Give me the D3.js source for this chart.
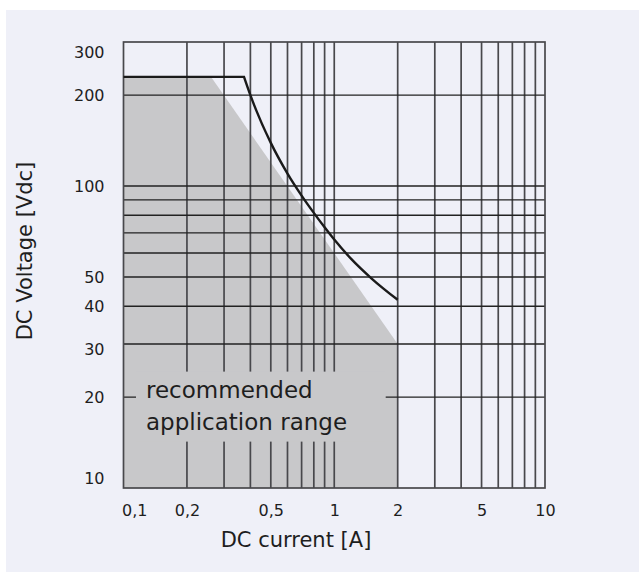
<!doctype html>
<html>
<head>
<meta charset="UTF-8">
<title>DC load limit</title>
<script src="https://d3js.org/d3.v7.min.js"></script>
<style>
    body { margin: 0; background: #fff; }
    text { font-family: "DejaVu Sans", sans-serif; fill: #1e1e1e; }
</style>
</head>
<body>
<svg width="639" height="572"></svg>
<script>
    // x ticks (A) and labels
    var xTicks = [0.1, 0.2, 0.5, 1, 2, 5, 10];
    var xLabels = ["0,1", "0,2", "0,5", "1", "2", "5", "10"];
    var xGrid = [0.2, 0.3, 0.4, 0.5, 0.6, 0.7, 0.8, 0.9, 1, 2, 3, 4, 5, 6, 7, 8, 9];

    // y ticks (Vdc)
    var yTicks = [10, 20, 30, 40, 50, 100, 200, 300];
    var yGrid = [20, 30, 40, 50, 60, 70, 80, 90, 100, 200];

    // load limit curve
    var curveI = [0.1, 0.373, 0.4, 0.5, 0.6, 0.7, 0.8, 0.9, 1.0, 1.2, 1.5, 2.0];
    var curveV = [230, 230, 200, 139, 110, 93, 81.5, 73, 66.5, 57.5, 49.5, 42];

    // recommended application range (shaded)
    var areaI = [0.1, 0.1, 0.26, 2, 2];
    var areaV = [10, 230, 230, 30, 10];

    var svg = d3.select("svg");

    var x = d3.scaleLog().domain([0.1, 10]).range([123.5, 545]);
    var y = d3.scaleLog().domain([10, 300]).range([488, 42]);

    svg.append("rect")
        .attr("x", 6).attr("y", 10)
        .attr("width", 633).attr("height", 562)
        .attr("fill", "#eff0f8");

    // shaded area
    var areaPts = areaI.map(function(d, i) { return [x(d), y(areaV[i])]; });
    svg.append("path")
        .attr("d", "M" + areaPts.join("L") + "Z")
        .attr("fill", "#c8c8ca");

    // grid
    var grid = svg.append("g");
    grid.selectAll("line.v")
        .data(xGrid).enter().append("line")
        .attr("class", "v")
        .attr("x1", function(d) { return x(d); })
        .attr("x2", function(d) { return x(d); })
        .attr("y1", y(10)).attr("y2", y(300))
        .attr("stroke", "#48484c").attr("stroke-width", 1.7);
    grid.selectAll("line.h")
        .data(yGrid).enter().append("line")
        .attr("class", "h")
        .attr("x1", x(0.1)).attr("x2", x(10))
        .attr("y1", function(d) { return y(d); })
        .attr("y2", function(d) { return y(d); })
        .attr("stroke", "#222").attr("stroke-width", 1.4);
    grid.append("rect")
        .attr("x", x(0.1)).attr("y", y(300))
        .attr("width", x(10) - x(0.1)).attr("height", y(10) - y(300))
        .attr("fill", "none").attr("stroke", "#48484c").attr("stroke-width", 1.7);

    // label inside the shaded area, with a plain box behind it
    var lbl = svg.append("g");
    var lblBg = lbl.append("rect").attr("fill", "#c8c8ca");
    var lblText = lbl.append("text")
        .attr("x", x(0.1) + 22.5)
        .attr("y", y(20) + 0.5)
        .style("font-size", "23px");
    lblText.append("tspan").text("recommended");
    lblText.append("tspan")
        .attr("x", x(0.1) + 22.5).attr("dy", 32)
        .text("application range");
    var bb = lblText.node().getBBox();
    lblBg.attr("x", bb.x - 10)
        .attr("y", bb.y - 5)
        .attr("width", x(2) - 12 - (bb.x - 10))
        .attr("height", bb.height + 12);

    // limit curve
    var pts = curveI.map(function(d, i) { return [x(d), y(curveV[i])]; });
    var line = d3.line().curve(d3.curveMonotoneX);
    svg.append("path")
        .attr("d", "M" + pts[0] + "L" + line(pts.slice(1)).slice(1))
        .attr("fill", "none")
        .attr("stroke", "#1a1a1a")
        .attr("stroke-width", 2.4);

    // x axis labels
    var xAxis = d3.axisBottom(x)
        .tickValues(xTicks)
        .tickFormat(function(d, i) { return xLabels[i]; })
        .tickSize(0);
    var gx = svg.append("g")
        .attr("transform", "translate(0," + (y(10) + 14) + ")")
        .call(xAxis);
    gx.select(".domain").remove();
    gx.selectAll("text")
        .style("font-size", "16px")
        .style("font-family", "DejaVu Sans, sans-serif")
        .attr("fill", "#1e1e1e");
    gx.selectAll("text").filter(function(d) { return d === 0.1; })
        .attr("text-anchor", "start").attr("x", -2);

    // y axis labels
    var yAxis = d3.axisLeft(y)
        .tickValues(yTicks)
        .tickFormat(function(d, i) { return String(yTicks[i]); })
        .tickSize(0);
    var gy = svg.append("g")
        .attr("transform", "translate(" + (x(0.1) - 16) + ",0)")
        .call(yAxis);
    gy.select(".domain").remove();
    gy.selectAll("text")
        .style("font-size", "16px")
        .style("font-family", "DejaVu Sans, sans-serif")
        .attr("fill", "#1e1e1e");
    gy.selectAll(".tick text").attr("y", function(d) {
        if (d === 300) return 10;
        if (d === 10) return -10;
        if (d === 30) return 5;
        return 0;
    });

    // axis titles
    svg.append("text")
        .attr("x", 296).attr("y", 547)
        .attr("text-anchor", "middle")
        .style("font-size", "21px")
        .text("DC current [A]");
    svg.append("text")
        .attr("transform", "translate(32,251) rotate(-90)")
        .attr("text-anchor", "middle")
        .style("font-size", "21px")
        .text("DC Voltage [Vdc]");
</script>
</body>
</html>
